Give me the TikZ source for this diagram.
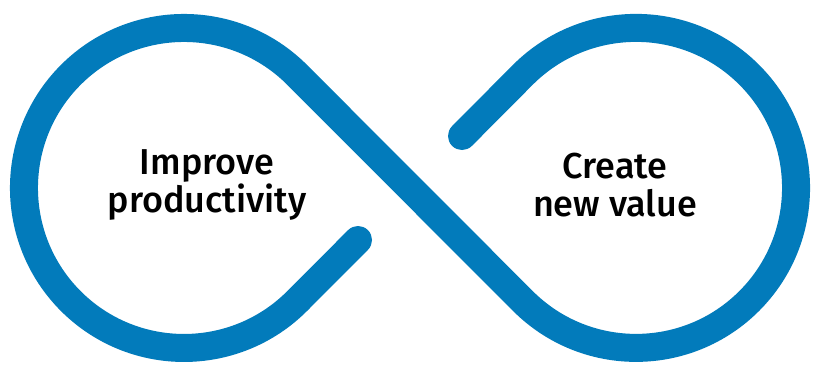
\documentclass[tikz,border=0pt]{standalone}
\usepackage{fontspec}
\setmainfont{Fira Sans Medium}
\definecolor{loopblue}{RGB}{2,123,187}
\begin{document}
\begin{tikzpicture}[x=1pt,y=1pt,
  loopline/.style={draw=loopblue,line width=28pt,line cap=round,line join=round},
  label/.style={align=center,font=\fontsize{36}{38}\selectfont,text=black,inner sep=0pt}]
\useasboundingbox (0,0) rectangle (821,368);
\coordinate (Lend) at (358,128);
\coordinate (Rend) at (462,232);
\path[loopline] (Lend) -- ++(-60.9,-61.1) arc[start angle=-45,end angle=-315,radius=160]
  -- ++(225.8,-226.2) arc[start angle=225,end angle=495,radius=160] -- (Rend);
\node[label] (left) at (207,183) {Improve\\productivity};
\node[label] (right) at (615,183) {Create\\new value};
\end{tikzpicture}
\end{document}
